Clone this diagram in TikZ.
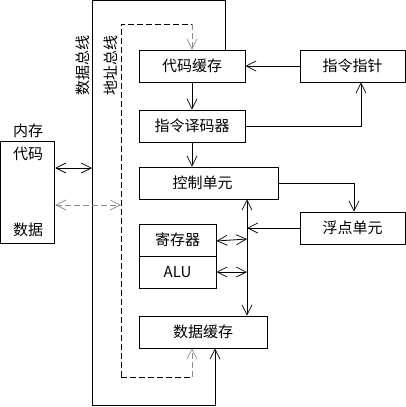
\documentclass[tikz,border=0pt]{standalone}
\usepackage{fontspec}
\setmainfont{Noto Sans CJK SC}
\usetikzlibrary{arrows.meta}
\definecolor{busgray}{RGB}{140,140,140}
\tikzset{
  x=1pt, y=-1pt,
  every node/.style={font=\fontsize{15pt}{18pt}\selectfont},
  box/.style={draw, line width=0.8pt, minimum height=32pt, inner sep=0pt},
  wire/.style={line width=0.8pt},
  >={Straight Barb[length=10pt,width=10pt,line width=0.7pt]},
  addr/.style={line width=0.8pt, dash pattern=on 6pt off 3pt},
  addrg/.style={addr, draw=busgray},
}
\begin{document}
\begin{tikzpicture}
\useasboundingbox (0,0) rectangle (406,407);
% boxes
\node[box, minimum width=106pt] (cache) at (192,66) {代码缓存};
\node[box, minimum width=106pt] (dec) at (192,126) {指令译码器};
\node[box, minimum width=139pt] (ctrl) at (208.5,183) {控制单元\hspace*{12pt}};
\node[box, minimum width=77pt] (reg) at (177.5,240) {寄存器};
\node[box, minimum width=77pt] (alu) at (177.5,272) {ALU};
\node[box, minimum width=128pt] (dcache) at (203,332) {数据缓存};
\node[box, minimum width=105pt] (ip) at (352.5,66) {指令指针};
\node[box, minimum width=105pt] (fpu) at (352.5,228) {浮点单元};
\node[box, minimum width=54pt, minimum height=102pt] (mem) at (27.8,192) {};
\node (memlbl) at (28,131) {内存};
\node (code) at (28,154) {代码};
\node (data) at (28,230) {数据};
\node[rotate=90] (dbl) at (82.5,65.5) {数据总线};
\node[rotate=90] (abl) at (111,65.5) {地址总线};
% bus coordinates
\coordinate (dbL) at (92,0.5);
\coordinate (dbB) at (92,405.5);
\coordinate (abT) at (121,24);
\coordinate (abB) at (121,377);
\coordinate (busx) at (247,0);
\coordinate (dcin) at ([xshift=12pt]dcache.south);
\coordinate (dcadr) at ([xshift=-11pt]dcache.south);
\coordinate (ccin) at ([xshift=33pt]cache.north);
% data bus
\draw[wire,->] (ccin) |- (dbL) -- (dbB) -| (dcin);
% address bus
\draw[addr] (abB) -- (abT) -- (abT -| cache.north);
\draw[addrg,->] (abT -| cache.north) -- (cache.north);
\draw[addr] (abB) -- (abB -| dcadr);
\draw[addrg,->] (abB -| dcadr) -- (dcadr);
% memory links
\draw[wire,<->] (mem.east |- 0,168) -- (dbL |- 0,168);
\draw[addrg,<->] (mem.east |- 0,205) -- (abT |- 0,205);
% control flow
\draw[wire,->] (ip.west) -- (cache.east);
\draw[wire,->] (cache.south) -- (dec.north);
\draw[wire,->] (dec.east) -| ([xshift=8.5pt]ip.south);
\draw[wire,->] (dec.south) -- (dec.south |- ctrl.north);
\draw[wire,->] (ctrl.east) -| ([xshift=1.5pt]fpu.north);
\draw[wire,<->] (busx |- ctrl.south) -- (busx |- dcache.north);
\draw[wire,->] (fpu.west) -- (busx |- fpu.west);
\draw[wire,<->] ([yshift=-1pt]reg.east) -- (busx |- 0,239);
\draw[wire,<->] (alu.east) -- (busx |- alu.east);
\end{tikzpicture}
\end{document}
